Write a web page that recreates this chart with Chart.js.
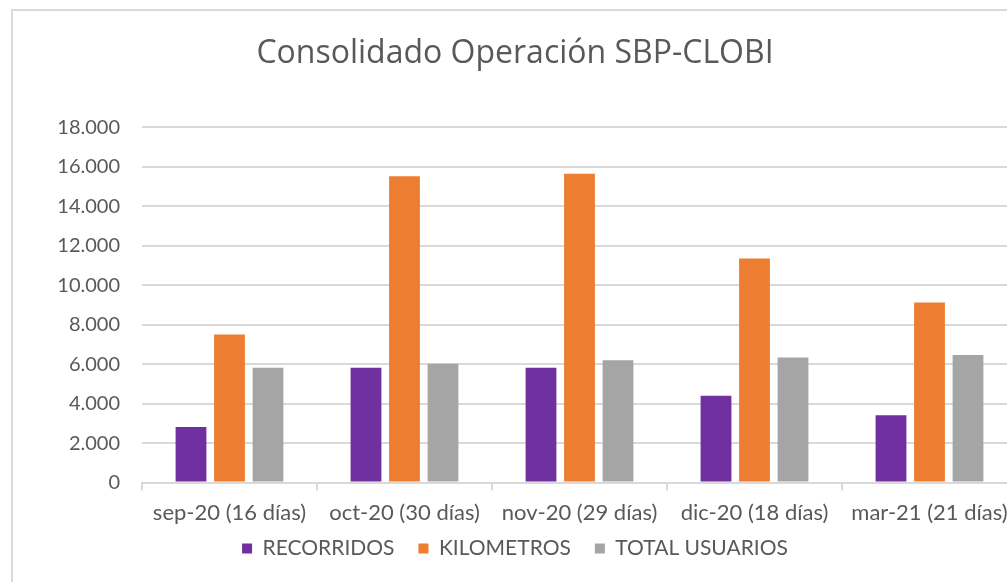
<!DOCTYPE html>
<html>
<head>
<meta charset="utf-8">
<script src="https://cdn.jsdelivr.net/npm/chart.js@4.4.1/dist/chart.umd.min.js"></script>
<style>
  html, body { margin: 0; padding: 0; background: #fff; overflow: hidden; }
  #box {
    position: absolute; left: 11px; top: 9px;
    width: 1030px; height: 620px;
    border: 2px solid #d9d9d9;
    box-sizing: border-box;
  }
  #wrap { position: absolute; left: 0; top: 0; width: 1010px; height: 572px; }
</style>
</head>
<body>
<div id="box"><div id="wrap"><canvas id="chart"></canvas></div></div>
<script>
const months = ['sep-20 (16 días)', 'oct-20 (30 días)', 'nov-20 (29 días)', 'dic-20 (18 días)', 'mar-21 (21 días)'];
const recorridos = [2820, 5820, 5820, 4400, 3410];
const kilometros = [7500, 15520, 15650, 11360, 9130];
const totalUsuarios = [5820, 6020, 6200, 6340, 6460];

const seriesNames = ['RECORRIDOS', 'KILOMETROS', 'TOTAL USUARIOS'];
const seriesColors = ['#7030A0', '#ED7D31', '#A5A5A5'];

// thousands with dot, like the spanish excel chart
function fmt(v) {
  return String(v).replace(/\B(?=(\d{3})+(?!\d))/g, '.');
}

const font = 'Lato, "Open Sans", sans-serif';

new Chart(document.getElementById('chart'), {
  type: 'bar',
  data: {
    labels: months,
    datasets: [recorridos, kilometros, totalUsuarios].map((d, i) => ({
      label: seriesNames[i],
      data: d,
      backgroundColor: seriesColors[i],
      borderWidth: 0,
      categoryPercentage: 0.66,
      barPercentage: 0.8
    }))
  },
  options: {
    responsive: true,
    maintainAspectRatio: false,
    animation: false,
    layout: { padding: { left: 0, right: 6, top: 0, bottom: 14 } },
    plugins: {
      title: {
        display: true,
        text: 'Consolidado Operación SBP-CLOBI',
        color: '#595959',
        font: { family: '"Open Sans", sans-serif', size: 32, weight: 'normal' },
        padding: { top: 24, bottom: 54 }
      },
      legend: {
        position: 'bottom',
        labels: {
          color: '#595959',
          font: { family: font, size: 21 },
          boxWidth: 10,
          boxHeight: 10,
          padding: 3,
          // extra gap between items without making the legend taller
          generateLabels: chart => Chart.defaults.plugins.legend.labels.generateLabels(chart)
            .map((item, i, all) => ({ ...item, text: i < all.length - 1 ? item.text + '\u2003\u2005' : item.text }))
        }
      },
      tooltip: { enabled: false }
    },
    scales: {
      x: {
        grid: { display: true, drawOnChartArea: false, offset: true, tickLength: 8, color: '#d9d9d9', lineWidth: 2 },
        border: { color: '#d9d9d9', width: 2 },
        ticks: { color: '#595959', font: { family: font, size: 22 }, padding: 9, maxRotation: 0, autoSkip: false }
      },
      y: {
        min: 0,
        max: 18000,
        grid: { color: '#d9d9d9', lineWidth: 2, drawTicks: false },
        border: { display: false },
        ticks: { stepSize: 2000, color: '#595959', font: { family: font, size: 20 }, padding: 22, callback: v => fmt(v) },
        afterFit: s => { s.width = 129; }
      }
    }
  }
});
</script>
</body>
</html>
